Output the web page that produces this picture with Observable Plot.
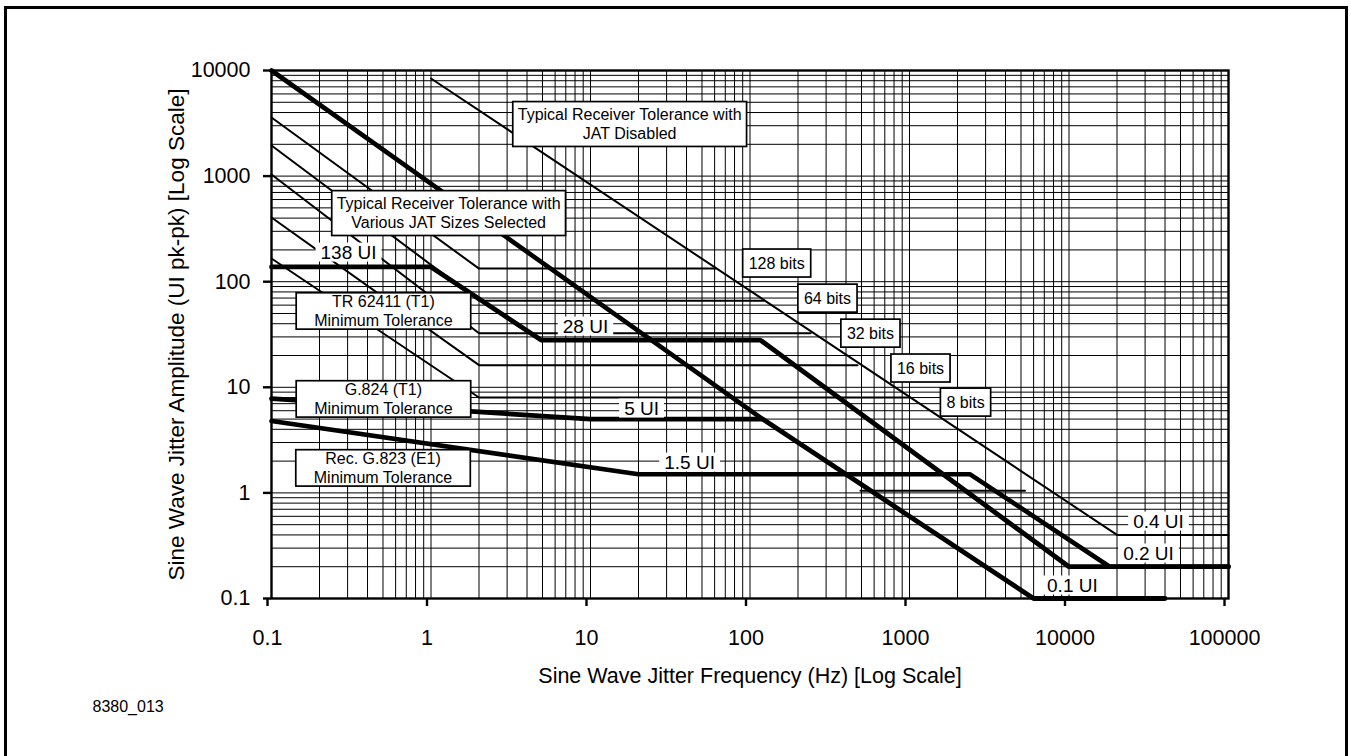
<!DOCTYPE html>
<html><head><meta charset="utf-8">
<script src="https://cdn.jsdelivr.net/npm/d3@7"></script>
<script src="https://cdn.jsdelivr.net/npm/@observablehq/plot@0.6"></script>
<style>
html,body{margin:0;padding:0;background:#fff;}
#wrap{position:relative;width:1351px;height:756px;overflow:hidden;background:#fff;}
#chart{position:absolute;left:0;top:0;}
#border{position:absolute;left:4px;top:6px;width:1338px;height:820px;border:3px solid #000;pointer-events:none;}
</style></head><body>
<div id="wrap"><div id="chart"></div><div id="border"></div></div>
<script>
// ---- axis ticks ----
const freqTicks = [0.1, 1, 10, 100, 1000, 10000, 100000];
const freqTickLabels = ["0.1", "1", "10", "100", "1000", "10000", "100000"];
const ampTicks = [0.1, 1, 10, 100, 1000, 10000];
const ampTickLabels = ["0.1", "1", "10", "100", "1000", "10000"];
const xTitle = "Sine Wave Jitter Frequency (Hz) [Log Scale]";
const yTitle = "Sine Wave Jitter Amplitude (UI pk-pk) [Log Scale]";
const caption = "8380_013";

// ---- series: [frequency Hz, amplitude UI] ----
const jatDisabled = [[1, 8400], [20000, 0.4], [100000, 0.4]];
const jat128 = [[0.1, 3590], [2, 133], [61, 133]];
const jat64 = [[0.1, 1950], [2, 66], [122, 66]];
const jat32 = [[0.1, 1035], [2, 32.5], [240, 32.5]];
const jat16 = [[0.1, 405], [2, 16.2], [472, 16.2]];
const jat8 = [[0.1, 166], [2, 8], [1000, 8]];
const jatLow = [[493, 1.05], [5300, 1.05]];
const steepLine = [[0.1, 10000], [120, 5]];
const tr62411 = [[0.1, 138], [1, 138], [4.9, 28], [116, 28], [10000, 0.2], [100000, 0.2]];
const g824 = [[0.1, 7.8], [10, 5], [120, 5], [6000, 0.1], [40000, 0.1]];
const g823 = [[0.1, 4.8], [20, 1.5], [2400, 1.5], [18000, 0.2], [100000, 0.2]];

// ---- annotations (anchor in data coordinates) ----
const jatNoteText = ["Typical Receiver Tolerance with\nJAT Disabled", "Typical Receiver Tolerance with\nVarious JAT Sizes Selected"];
const jatNoteF = [17.6, 1.29];
const jatNoteA = [3150, 452];
const specNoteText = ["TR 62411 (T1)\nMinimum Tolerance", "G.824 (T1)\nMinimum Tolerance", "Rec. G.823 (E1)\nMinimum Tolerance"];
const specNoteF = [0.503, 0.503, 0.5];
const specNoteA = [53.3, 7.83, 1.74];
const bitText = ["128 bits", "64 bits", "32 bits", "16 bits", "8 bits"];
const bitF = [147, 306, 569, 1172, 2245];
const bitA = [149, 69.3, 32.3, 15.1, 7.18];
const uiText = ["138 UI", "28 UI", "5 UI", "1.5 UI", "0.4 UI", "0.2 UI", "0.1 UI"];
const uiF = [0.304, 9.3, 20.9, 41.8, 36400, 31500, 10500];
const uiA = [189, 37.7, 6.3, 1.94, 0.536, 0.267, 0.133];

// grid positions (1..9 per decade)
const gridF = [];
for (let e = -1; e < 5; e++) for (let m = 1; m < 10; m++) gridF.push(+(m * Math.pow(10, e)).toPrecision(6));
gridF.push(100000);
const gridA = [];
for (let e = -1; e < 4; e++) for (let m = 1; m < 10; m++) gridA.push(+(m * Math.pow(10, e)).toPrecision(6));
gridA.push(10000);

const font = "'Liberation Sans', Arial, Helvetica, sans-serif";
const fLab = new Map(freqTicks.map((d, i) => [d, freqTickLabels[i]]));
const aLab = new Map(ampTicks.map((d, i) => [d, ampTickLabels[i]]));

const ln = (data, w) => Plot.line(data, {x: d => d[0], y: d => d[1], stroke: "#000", strokeWidth: w, strokeLinecap: "round", strokeLinejoin: "miter"});
const tbl = (t, f, a) => t.map((s, i) => ({s, f: f[i], a: a[i]}));

const svg = Plot.plot({
  width: 1351, height: 756,
  marginLeft: 271, marginRight: 123, marginTop: 70, marginBottom: 158,
  x: {type: "log", domain: [0.1, 100000]},
  y: {type: "log", domain: [0.1, 10000]},
  style: {fontFamily: font, background: "transparent", color: "#000", overflow: "visible"},
  marks: [
    Plot.gridX(gridF, {stroke: "#000", strokeOpacity: 1, strokeWidth: 1}),
    Plot.gridY(gridA, {stroke: "#000", strokeOpacity: 1, strokeWidth: 1}),
    Plot.frame({stroke: "#000", strokeWidth: 2.4}),
    Plot.axisX(freqTicks, {tickSize: 8, tickPadding: 23, dx: -4, strokeWidth: 2.4, fontSize: 21.5, tickFormat: d => fLab.get(d), label: null}),
    Plot.axisY(ampTicks, {tickSize: 8, tickPadding: 13, strokeWidth: 2.4, fontSize: 21.5, tickFormat: d => aLab.get(d), label: null}),
    ln(jat128, 2), ln(jat64, 2), ln(jat32, 2), ln(jat16, 2), ln(jat8, 2), ln(jatLow, 2),
    ln(jatDisabled, 2),
    ln(steepLine, 4.6),
    ln(g823, 4.6),
    ln(g824, 4.8),
    ln(tr62411, 4.8),
    Plot.text(tbl(uiText, uiF, uiA), {x: "f", y: "a", text: "s", fontSize: 19, fill: "#000", ariaDescription: "ui-labels"}),
    Plot.text(tbl(bitText, bitF, bitA), {x: "f", y: "a", text: "s", fontSize: 16, fill: "#000", ariaDescription: "bit-labels"}),
    Plot.text(tbl(jatNoteText, jatNoteF, jatNoteA), {x: "f", y: "a", text: "s", fontSize: 16, lineHeight: 1.18, fill: "#000", ariaDescription: "jat-notes"}),
    Plot.text(tbl(specNoteText, specNoteF, specNoteA), {x: "f", y: "a", text: "s", fontSize: 16, lineHeight: 1.15, fill: "#000", ariaDescription: "spec-notes"}),
    Plot.text([xTitle], {text: d => d, frameAnchor: "bottom", dy: 78, textAnchor: "middle", lineAnchor: "middle", fontSize: 21.5, fill: "#000"}),
    Plot.text([yTitle], {text: d => d, frameAnchor: "left", dx: -95, rotate: -90, textAnchor: "middle", lineAnchor: "middle", fontSize: 22.5, fill: "#000"}),
    Plot.text([caption], {text: d => d, frameAnchor: "bottom-left", dx: -179, dy: 108, textAnchor: "start", lineAnchor: "middle", fontSize: 16, fill: "#000"})
  ]
});
document.getElementById("chart").appendChild(svg);

function boxify(desc, padX, padY, bordered) {
  svg.querySelectorAll(`g[aria-description="${desc}"] text`).forEach(t => {
    const b = t.getBBox();
    const r = document.createElementNS("http://www.w3.org/2000/svg", "rect");
    r.setAttribute("x", b.x - padX);
    r.setAttribute("y", b.y - padY);
    r.setAttribute("width", b.width + 2 * padX);
    r.setAttribute("height", b.height + 2 * padY);
    const tr = t.getAttribute("transform");
    if (tr) r.setAttribute("transform", tr);
    r.setAttribute("fill", "#fff");
    r.setAttribute("stroke", bordered ? "#000" : "none");
    r.setAttribute("stroke-width", 1.7);
    t.parentNode.insertBefore(r, t);
  });
}
boxify("ui-labels", 5, -1, false);
boxify("bit-labels", 6, 5.5, true);
boxify("jat-notes", 5, 4.5, true);
boxify("spec-notes", 18, 0.5, true);
</script>
</body></html>
